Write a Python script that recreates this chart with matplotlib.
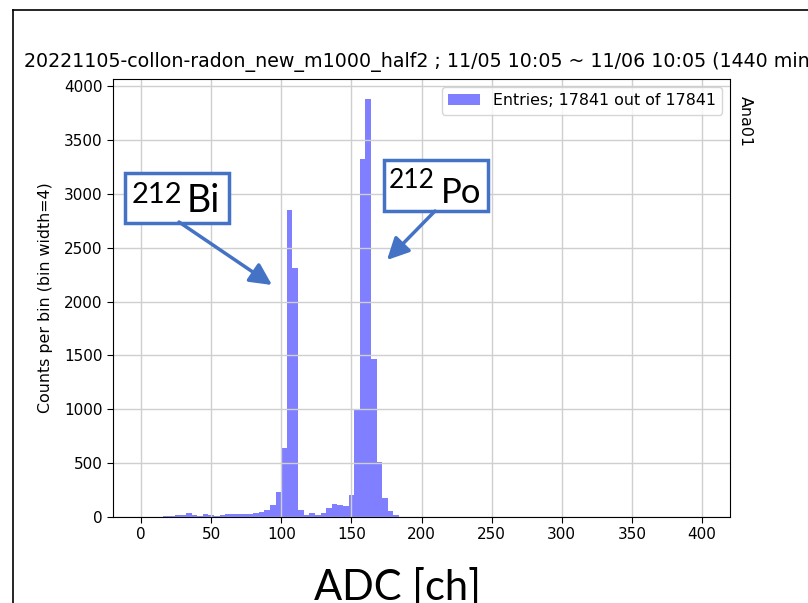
import numpy as np
import matplotlib
matplotlib.use("Agg")
from matplotlib import pyplot as plt, patches
from matplotlib.lines import Line2D

W, H = 808, 603

# histogram: counts per 4-channel bin, first bin starts at ADC 16
bin_width = 4
first_edge = 16
counts = [12, 12, 15, 22, 35, 22, 12, 25, 22, 10,
          22, 25, 25, 25, 25, 28, 35, 45, 68, 110,
          232, 637, 2850, 2310, 65, 22, 34, 22, 34, 80,
          122, 108, 99, 200, 995, 3325, 3884, 1465, 515, 175,
          57, 15]
edges = first_edge + bin_width * np.arange(len(counts) + 1)

title = "20221105-collon-radon_new_m1000_half2 ; 11/05 10:05 ~ 11/06 10:05 (1440 min)"
legend_label = f"Entries; {sum(counts)} out of {sum(counts)}"
xticks = [0, 50, 100, 150, 200, 250, 300, 350, 400]
yticks = [0, 500, 1000, 1500, 2000, 2500, 3000, 3500, 4000]

box_blue = "#4472C4"


def fx(px):
    return px / W


def fy(py):
    return 1 - py / H


fig = plt.figure(figsize=(W / 100, H / 100), dpi=100)
ax = fig.add_axes([fx(113), fy(517), (730 - 113) / W, (517 - 79) / H])

ax.hist(edges[:-1], bins=edges, weights=counts, color="blue", alpha=0.5,
        label=legend_label)
ax.set_xlim(-20, 420)
ax.set_ylim(0, 4065)
ax.set_xticks(xticks)
ax.set_yticks(yticks)
ax.tick_params(labelsize=11, length=4)
ax.grid(True, color="#cfcfcf", linewidth=1)
ax.set_ylabel("Counts per bin (bin width=4)", fontsize=11.4)
ax.yaxis.set_label_coords(-0.097, 0.5)
ax.legend(loc="upper right", fontsize=11.4)

# title runs off the right edge, as on the slide
fig.text(fx(24), fy(67), title, fontsize=13.7, va="baseline", ha="left")
fig.text(fx(745), fy(96), "Ana01", rotation=-90, fontsize=11.4,
         ha="center", va="top")

# slide frame
fig.add_artist(Line2D([fx(12.5), fx(12.5)], [fy(10), 0], color="black", lw=1.2))
fig.add_artist(Line2D([fx(12.5), 1], [fy(10), fy(10)], color="black", lw=1.2))

# callout boxes
for (x0, y0, x1, y1) in [(125, 173, 229, 223), (384, 160, 488, 211)]:
    fig.add_artist(patches.Rectangle((fx(x0), fy(y1)), fx(x1) - fx(x0), fy(y0) - fy(y1),
                                     transform=fig.transFigure, facecolor="white",
                                     edgecolor=box_blue, lw=2.5, zorder=5))

fig.text(fx(132), fy(203), "212", fontsize=21, family="Lato", va="baseline", zorder=6)
fig.text(fx(187), fy(212), "Bi", fontsize=27, family="Lato", va="baseline", zorder=6)
fig.text(fx(389), fy(188), "212", fontsize=19, family="Lato", va="baseline", zorder=6)
fig.text(fx(441), fy(203), "Po", fontsize=25, family="Lato", va="baseline", zorder=6)

for (xa, ya, xb, yb) in [(179, 222, 272, 285), (435, 211, 387, 260)]:
    fig.add_artist(patches.FancyArrowPatch((fx(xa), fy(ya)), (fx(xb), fy(yb)),
                                           transform=fig.transFigure,
                                           arrowstyle="-|>,head_length=0.6,head_width=0.3",
                                           mutation_scale=22, color=box_blue, lw=2.5,
                                           shrinkA=0, shrinkB=0, zorder=5))

fig.text(fx(397), fy(600), "ADC [ch]", fontsize=30, family="Lato",
         ha="center", va="baseline")

fig.savefig("out.png", dpi=100)
